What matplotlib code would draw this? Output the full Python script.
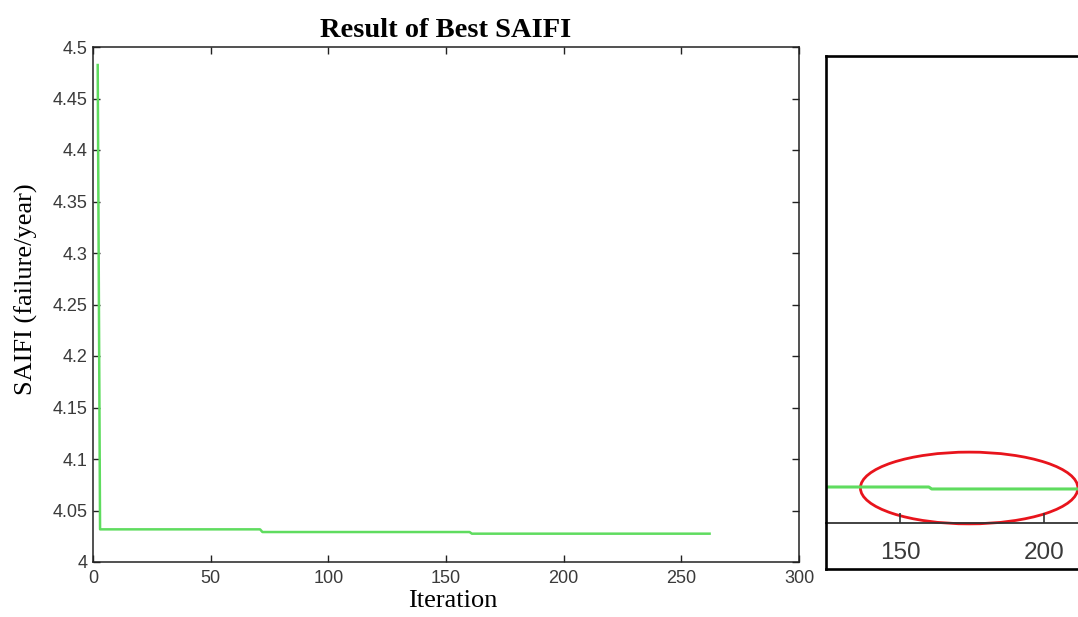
import numpy as np
import matplotlib
matplotlib.use("Agg")
import matplotlib.pyplot as plt
from matplotlib.patches import Ellipse

# best SAIFI value, read at the iterations where it changes
step_iters = [2, 3, 72, 161]
step_vals = [4.4825, 4.0317, 4.0291, 4.0275]
last_iter = 262

x_ticks = [0, 50, 100, 150, 200, 250, 300]
y_ticks = [4, 4.05, 4.1, 4.15, 4.2, 4.25, 4.3, 4.35, 4.4, 4.45, 4.5]
y_tick_labels = ['4', '4.05', '4.1', '4.15', '4.2', '4.25', '4.3', '4.35', '4.4', '4.45', '4.5']
inset_ticks = [150, 200]

# hold each best value until the next change
iters = np.arange(step_iters[0], last_iter + 1)
saifi = np.array([step_vals[np.searchsorted(step_iters, i, side='right') - 1] for i in iters])

line_color = '#5fdc5f'
tick_color = '#3a3a3a'
serif = 'Liberation Serif'
sans = 'Liberation Sans'

W, H = 1078, 617
fig = plt.figure(figsize=(W / 100, H / 100), dpi=100)


def px_box(left, top, right, bottom):
    return [left / W, 1 - bottom / H, (right - left) / W, (bottom - top) / H]


# main plot
ax = fig.add_axes(px_box(93, 47, 799, 562))
ax.plot(iters, saifi, color=line_color, lw=1.8)
ax.set_xlim(0, 300)
ax.set_ylim(4, 4.5)
ax.set_xticks(x_ticks)
ax.set_yticks(y_ticks)
ax.set_yticklabels(y_tick_labels)
ax.tick_params(direction='in', top=True, right=True, length=5, width=1,
               color='#222222', labelcolor=tick_color, labelsize=13)
ax.tick_params(axis='x', pad=6)
ax.tick_params(axis='y', pad=4)
for lab in ax.get_xticklabels() + ax.get_yticklabels():
    lab.set_fontfamily(sans)
for sp in ax.spines.values():
    sp.set_color('#222222')
    sp.set_linewidth(1.1)
ax.set_title('Result of Best SAIFI', fontfamily=serif, fontweight='bold',
             fontsize=20.5, pad=7)
ax.set_xlabel('Iteration', fontfamily=serif, fontsize=19)
ax.set_ylabel('SAIFI (failure/year)', fontfamily=serif, fontsize=19)
ax.xaxis.set_label_coords(0.51, -0.0545)
ax.yaxis.set_label_coords(-0.078, 0.53)

# zoomed view on the right
outer = fig.add_axes(px_box(826, 56, 1100, 569))
outer.set_xticks([])
outer.set_yticks([])
for sp in outer.spines.values():
    sp.set_color('black')
    sp.set_linewidth(1.9)
outer.set_zorder(3)
outer.patch.set_alpha(0)

inner = fig.add_axes(px_box(826, 56, 1078, 523))
inner.plot(iters, saifi, color=line_color, lw=2.2)
inner.set_xlim(124.3, 211.8)
inner.set_ylim(4, 4.3775)
inner.set_xticks(inset_ticks)
inner.set_yticks([])
inner.tick_params(direction='in', length=7, width=1.2, color='#333333',
                  labelcolor=tick_color, labelsize=17.5, pad=14)
for lab in inner.get_xticklabels():
    lab.set_fontfamily(sans)
for name in ['top', 'left', 'right']:
    inner.spines[name].set_visible(False)
inner.spines['bottom'].set_color('#333333')
inner.spines['bottom'].set_linewidth(1.3)

inner.add_patch(Ellipse((174, 4.0283), 75.5, 0.058, fill=False,
                        edgecolor='#e8141c', lw=2, clip_on=False))

fig.savefig('out.png', dpi=100)
